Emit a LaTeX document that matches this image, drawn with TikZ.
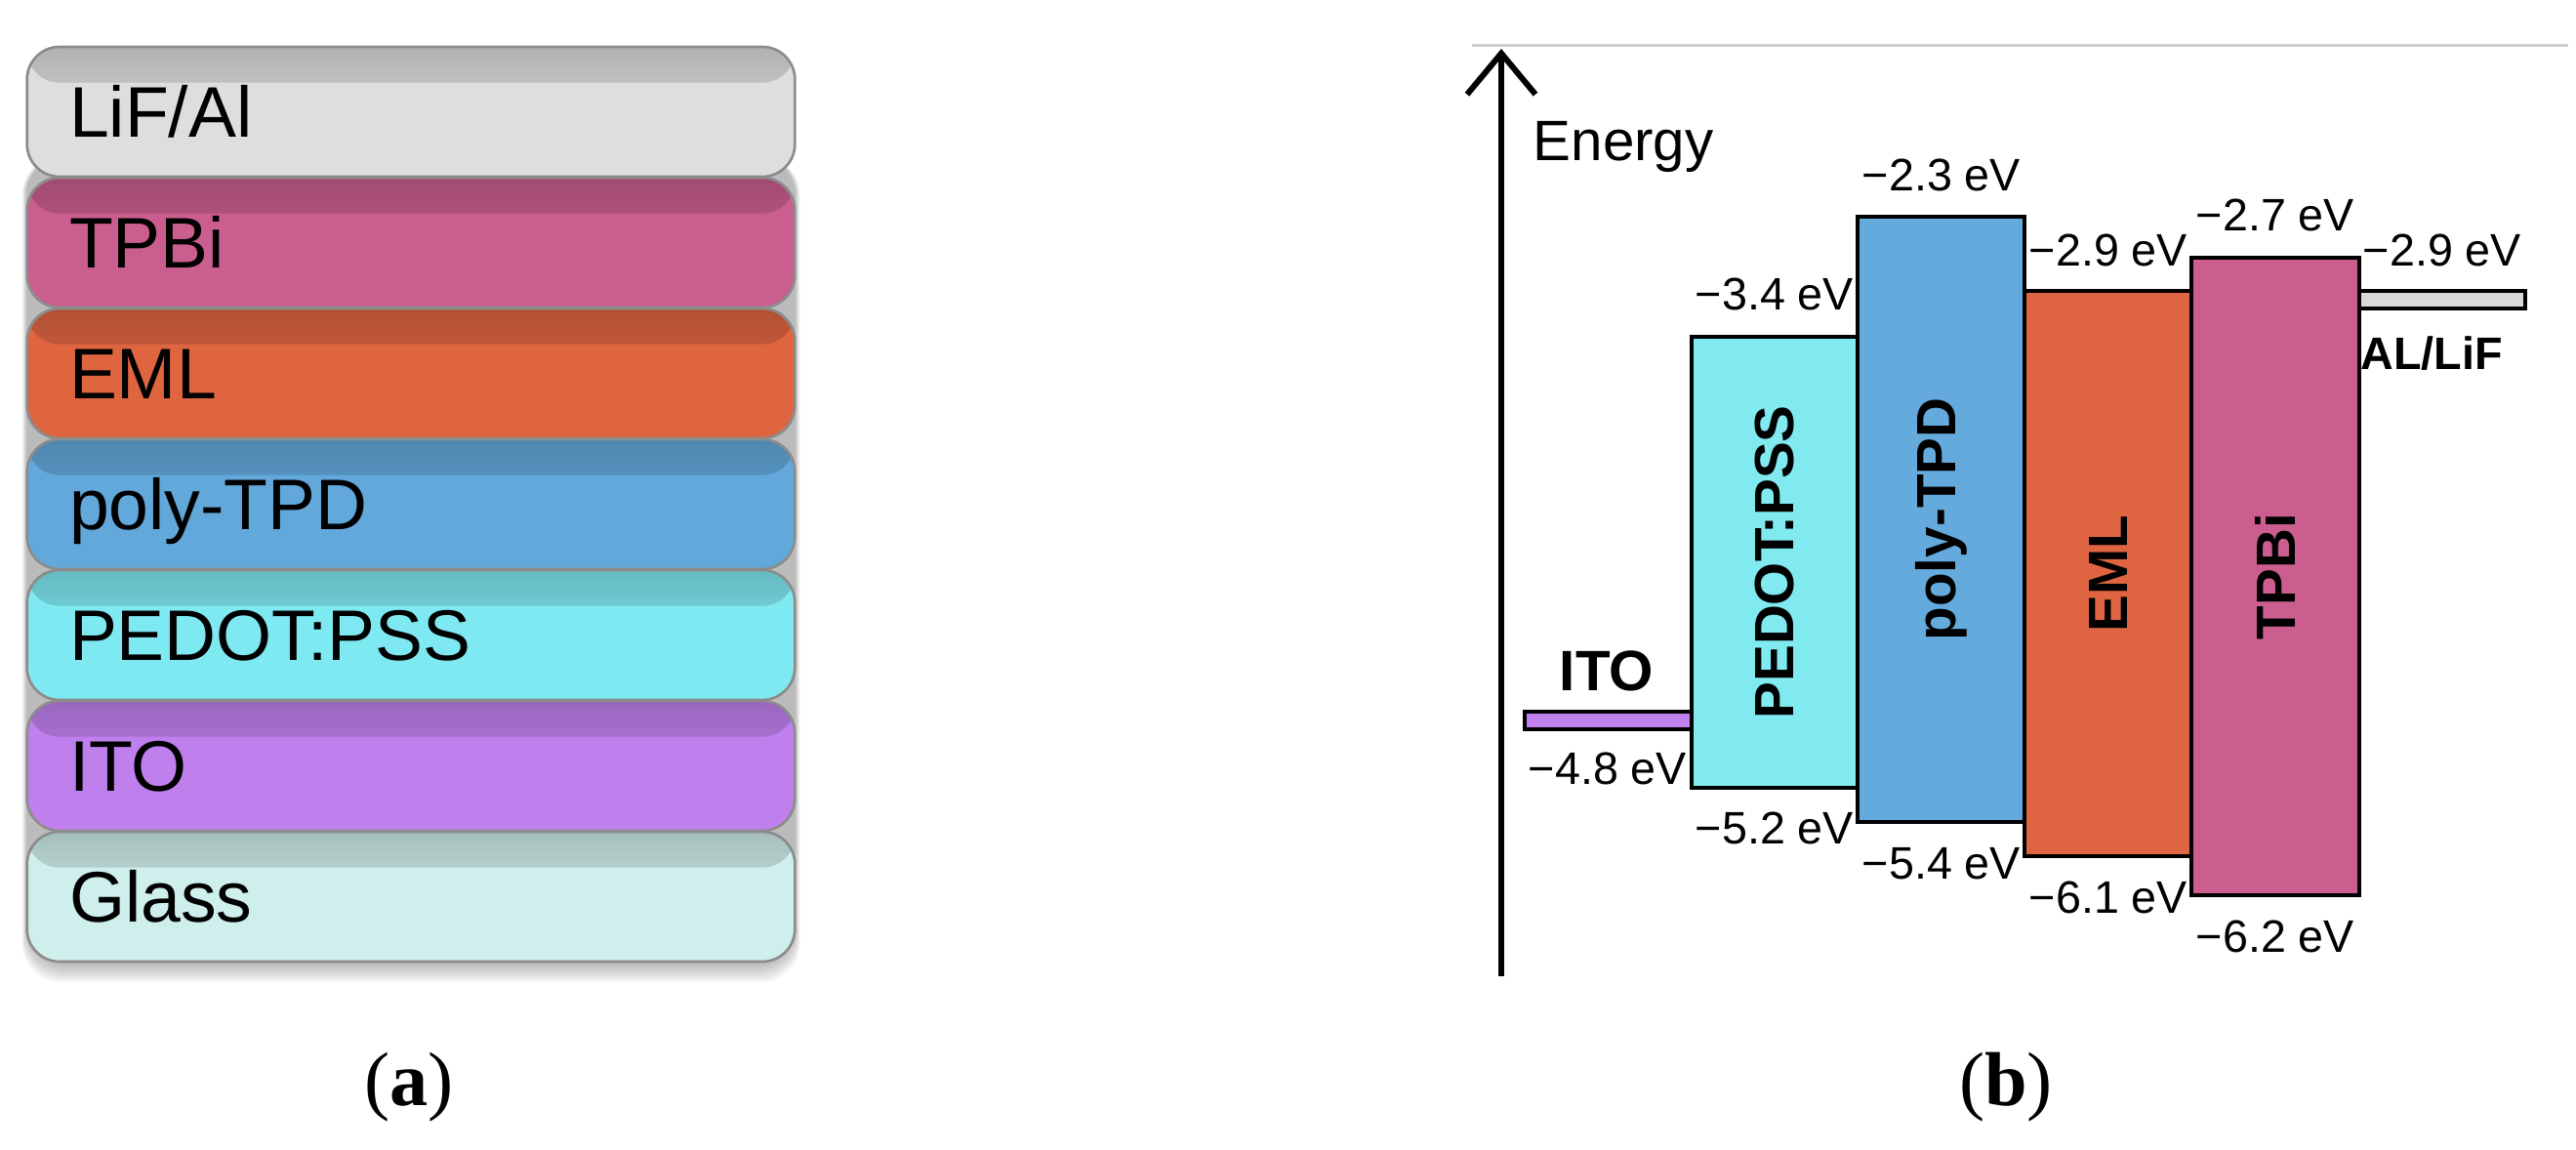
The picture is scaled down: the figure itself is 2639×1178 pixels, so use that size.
\documentclass[tikz,border=0pt]{standalone}
\usepackage{fontspec}
\setmainfont{Liberation Sans}
\newfontfamily\capfont{Liberation Serif}
\usetikzlibrary{arrows.meta,fit}

\definecolor{lLiF}{HTML}{DEDEDE}
\definecolor{lTPB}{HTML}{CA5E8F}
\definecolor{lEML}{HTML}{DF6541}
\definecolor{lPOL}{HTML}{62A8DB}
\definecolor{lPED}{HTML}{7FE9F1}
\definecolor{lITO}{HTML}{BF80EE}
\definecolor{lGLA}{HTML}{CFEFEC}
\definecolor{rPED}{HTML}{80EAF0}
\definecolor{rPOL}{HTML}{64AADC}
\definecolor{rEML}{HTML}{DF6542}
\definecolor{rTPB}{HTML}{CB5E8F}
\definecolor{rITO}{HTML}{C080EE}
\definecolor{rALF}{HTML}{D9D9D9}

\tikzset{
  layer/.style={draw=black!45, line width=0.8pt, rounded corners=10pt, fill=#1,
    minimum width=236pt, minimum height=39.9pt, text width=210pt,
    inner xsep=13pt, inner ysep=0pt, align=left,
    font=\fontsize{22}{26}\selectfont, text height=15.75pt, text depth=0pt,
    path picture={\shade[top color=#1!80!black, bottom color=#1, middle color=#1!92!black]
      (path picture bounding box.north west) rectangle
      ([yshift=-11pt]path picture bounding box.north east);}},
  band/.style={draw=black, line width=1.1pt, inner sep=0pt},
  ev/.style={font=\fontsize{14}{16}\selectfont, inner sep=0pt, anchor=base},
  vlab/.style={rotate=90, font=\bfseries\fontsize{17}{20}\selectfont, inner sep=0pt},
  blab/.style={font=\bfseries\fontsize{#1}{20}\selectfont, inner sep=0pt, anchor=base},
  capstyle/.style={font=\capfont\fontsize{23.5}{28}\selectfont, inner sep=0pt, anchor=base},
}

\begin{document}
\begin{tikzpicture}[x=0.3pt,y=-0.3pt]
\useasboundingbox (0,0) rectangle (2639,1178);

% ---------- (a) layer stack ----------
\foreach \d in {3,6,9,12,15,18,21}
  \fill[black, opacity=0.045, rounded corners=12pt]
    ({28-\d/4},160) rectangle ({814+\d/4},{985+\d});

\node[layer=lLiF] (aLiF) at (421,114.5) {LiF/Al};
\node[layer=lTPB] (aTPB) at (421,248.5) {TPBi};
\node[layer=lEML] (aEML) at (421,382.5) {EML};
\node[layer=lPOL] (aPOL) at (421,516.5) {poly-TPD};
\node[layer=lPED] (aPED) at (421,650.5) {PEDOT:PSS};
\node[layer=lITO] (aITO) at (421,784.5) {ITO};
\node[layer=lGLA] (aGLA) at (421,918.5) {Glass};

% ---------- (b) energy diagram ----------
\coordinate (gl) at (1508,47);
\coordinate (gr) at (2631,47);
\draw[black!20, line width=0.9pt] (gl) -- (gr);

\coordinate (axb) at (1538,1000);
\coordinate (axt) at (1538,50);
\draw[line width=1.8pt, -{Straight Barb[length=12.6pt,width=21pt]}] (axb) -- (axt);
\node[font=\fontsize{17.5}{20}\selectfont, inner sep=0pt, anchor=base west] (energy) at (1570,165) {Energy};

\node[band, fill=rITO, fit={(1562,729) (1733,747)}] (bITO) {};
\node[band, fill=rALF, fit={(2417,298) (2587,316)}] (bALF) {};
\node[band, fill=rPED, fit={(1733,345) (1903,807)}] (bPED) {};
\node[band, fill=rPOL, fit={(1903,222) (2074,842)}] (bPOL) {};
\node[band, fill=rEML, fit={(2074,298) (2245,877)}] (bEML) {};
\node[band, fill=rTPB, fit={(2245,264) (2417,917)}] (bTPB) {};

\node[vlab] (tPED) at (bPED.center) {PEDOT:PSS};
\node[vlab] (tPOL) at (bPOL.center) {poly-TPD};
\node[vlab] (tEML) at (bEML.center) {EML};
\node[vlab] (tTPB) at (bTPB.center) {TPBi};

\node[blab=17.5] (tITO) at (1646,708) {ITO};
\node[blab=14] (tALF) at (2491,379) {AL/LiF};

\node[ev] (e23) at (1989,196) {−2.3 eV};
\node[ev] (e34) at (1818,318) {−3.4 eV};
\node[ev] (e29a) at (2160,273) {−2.9 eV};
\node[ev] (e27) at (2331,237) {−2.7 eV};
\node[ev] (e29b) at (2502,273) {−2.9 eV};
\node[ev] (e48) at (1647,803) {−4.8 eV};
\node[ev] (e52) at (1818,865) {−5.2 eV};
\node[ev] (e54) at (1989,900) {−5.4 eV};
\node[ev] (e61) at (2160,935) {−6.1 eV};
\node[ev] (e62) at (2331,975) {−6.2 eV};

% ---------- captions ----------
\node[capstyle] (capa) at (419,1132) {(\textbf{a})};
\node[capstyle] (capb) at (2055,1132) {(\textbf{b})};
\end{tikzpicture}
\end{document}
